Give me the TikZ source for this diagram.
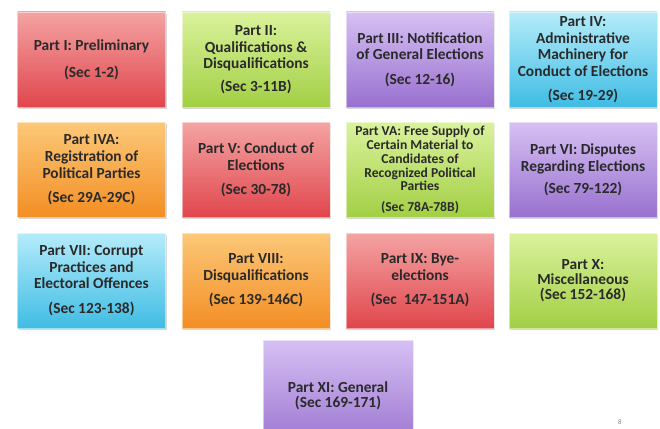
\documentclass[tikz,border=0pt]{standalone}
\usepackage{fontspec}
\setmainfont{Carlito}
\usetikzlibrary{shadows}
\definecolor{redT}{HTML}{F4A3A3}
\definecolor{redB}{HTML}{E0464C}
\definecolor{grnT}{HTML}{DAF29C}
\definecolor{grnB}{HTML}{A2CF44}
\definecolor{purT}{HTML}{D6C0F3}
\definecolor{purB}{HTML}{9870CF}
\definecolor{cyaT}{HTML}{B4ECFA}
\definecolor{cyaB}{HTML}{40BCE4}
\definecolor{ornT}{HTML}{FCC878}
\definecolor{ornB}{HTML}{F38E24}
\definecolor{txt}{HTML}{2A2A2A}
\begin{document}
\begin{tikzpicture}[x=1pt,y=-1pt,
  part/.style={rectangle, minimum width=148pt, minimum height=95pt, inner sep=2pt,
    align=center, text=txt, font=\bfseries\fontsize{15.4}{16.6}\selectfont,
    draw=white, draw opacity=0.5, line width=0.4pt,
    drop shadow={shadow xshift=1.2pt, shadow yshift=-1.6pt, opacity=0.3}},
  small/.style={font=\bfseries\fontsize{13.6}{13.8}\selectfont},
  redbox/.style={part, top color=redT, bottom color=redB},
  grnbox/.style={part, top color=grnT, bottom color=grnB},
  purbox/.style={part, top color=purT, bottom color=purB},
  cyabox/.style={part, top color=cyaT, bottom color=cyaB},
  ornbox/.style={part, top color=ornT, bottom color=ornB}]
\clip (0,0) rectangle (660,428);
\fill[white] (0,0) rectangle (660,428);
% row 1
\node[redbox] (p1) at (91.5,59.5) {Part I: Preliminary\\[10pt](Sec 1-2)};
\node[grnbox] (p2) at (256,59.5) {Part II:\\Qualifications \&\\Disqualifications\\[6pt](Sec 3-11B)};
\node[purbox] (p3) at (420,59.5) {Part III: Notification\\of General Elections\\[8pt](Sec 12-16)};
\node[cyabox] (p4) at (583,59.5) {Part IV:\\Administrative\\Machinery for\\Conduct of Elections\\[7pt](Sec 19-29)};
% row 2
\node[ornbox] (p4a) at (91.5,170) {Part IVA:\\Registration of\\Political Parties\\[8pt](Sec 29A-29C)};
\node[redbox] (p5) at (256,170) {Part V: Conduct of\\Elections\\[8pt](Sec 30-78)};
\node[grnbox, small] (p5a) at (420,170) {Part VA: Free Supply of\\Certain Material to\\Candidates of\\Recognized Political\\Parties\\[7pt](Sec 78A-78B)};
\node[purbox] (p6) at (583,170) {Part VI: Disputes\\Regarding Elections\\[6pt](Sec 79-122)};
% row 3
\node[cyabox] (p7) at (91.5,280.5) {Part VII: Corrupt\\Practices and\\Electoral Offences\\[8pt](Sec 123-138)};
\node[ornbox] (p8) at (256,280.5) {Part VIII:\\Disqualifications\\[8pt](Sec 139-146C)};
\node[redbox] (p9) at (420,280.5) {Part IX: Bye-\\elections\\[8pt](Sec~~147-151A)};
\node[grnbox, font=\bfseries\fontsize{15.4}{15}\selectfont] (p10) at (583,280.5) {Part X:\\Miscellaneous\\(Sec 152-168)};
% row 4
\node[purbox, minimum width=150pt, minimum height=112pt, font=\bfseries\fontsize{15.4}{15}\selectfont] (p11) at (338,396) {Part XI: General\\(Sec 169-171)};
\node[text=gray, font=\fontsize{7}{8}\selectfont, inner sep=0pt] (pg) at (620,422) {8};
\end{tikzpicture}
\end{document}
